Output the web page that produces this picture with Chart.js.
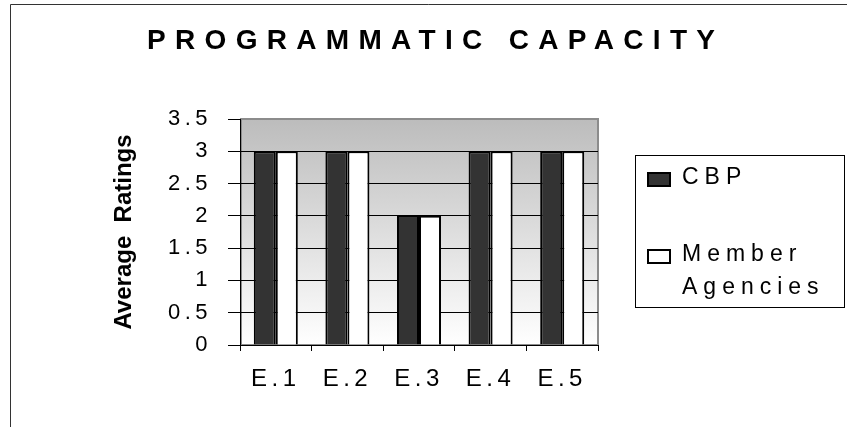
<!DOCTYPE html>
<html lang="en">
<head>
  <meta charset="UTF-8" />
  <title>Programmatic Capacity</title>
  <style>
    html, body { margin: 0; padding: 0; background: #fff; }
  </style>
</head>
<body>
  <canvas id="myChart" width="847" height="427"></canvas>

  <script src="https://cdn.jsdelivr.net/npm/chart.js"></script>

  <script>
    const chartTitle = "PROGRAMMATIC CAPACITY";
    const categories = ["E.1", "E.2", "E.3", "E.4", "E.5"];
    const cbpRatings = [3, 3, 2, 3, 3];
    const memberRatings = [3, 3, 2, 3, 3];
    const yTicks = [0, 0.5, 1, 1.5, 2, 2.5, 3, 3.5];
    const yTitle = "Average  Ratings";
    const FONT = '"Liberation Sans", Arial, sans-serif';

    // word wrap for the legend labels
    const wrap = (ctx, text, maxW) => {
      const words = text.split(" ");
      const lines = [];
      let cur = "";
      words.forEach((w) => {
        const test = cur ? cur + " " + w : w;
        if (cur && ctx.measureText(test).width > maxW) {
          lines.push(cur);
          cur = w;
        } else {
          cur = test;
        }
      });
      if (cur) lines.push(cur);
      return lines;
    };

    const decor = {
      id: "decor",
      beforeDraw(chart) {
        const { ctx, chartArea: a } = chart;
        ctx.save();
        const g = ctx.createLinearGradient(0, a.top, 0, a.bottom);
        g.addColorStop(0, "#bcbcbc");
        g.addColorStop(1, "#ffffff");
        ctx.fillStyle = g;
        ctx.fillRect(a.left, a.top, a.right - a.left, a.bottom - a.top);
        ctx.strokeStyle = "#8c8c8c";
        ctx.lineWidth = 2;
        ctx.strokeRect(a.left + 1, a.top, a.right - a.left - 1, a.bottom - a.top);
        // outer frame (top and left only)
        ctx.strokeStyle = "#333";
        ctx.lineWidth = 1;
        ctx.beginPath();
        ctx.moveTo(10.5, chart.height);
        ctx.lineTo(10.5, 4.5);
        ctx.lineTo(chart.width, 4.5);
        ctx.stroke();
        ctx.restore();
        ctx.letterSpacing = "0px";
      },
      afterDatasetsDraw(chart) {
        // tick labels are drawn after this (z: 1) with spaced letters
        chart.ctx.letterSpacing = "4.5px";
      },
      afterDraw(chart) {
        const ctx = chart.ctx;
        ctx.save();
        ctx.fillStyle = "#000";
        ctx.textAlign = "left";
        ctx.textBaseline = "alphabetic";

        // title, stretched to the reference width
        ctx.font = "bold 28px " + FONT;
        ctx.letterSpacing = "0px";
        const w0 = ctx.measureText(chartTitle).width;
        ctx.letterSpacing = (568 - w0) / (chartTitle.length - 1) + "px";
        ctx.fillText(chartTitle, 147, 49);

        // legend
        ctx.letterSpacing = "0px";
        ctx.strokeStyle = "#000";
        ctx.lineWidth = 1;
        ctx.strokeRect(635.5, 155.5, 209, 152);
        ctx.font = "23px " + FONT;
        ctx.letterSpacing = "6px";
        let y = 184;
        chart.data.datasets.forEach((ds) => {
          const lines = wrap(ctx, ds.label, 150);
          ctx.fillStyle = ds.backgroundColor;
          ctx.fillRect(647, y - 12, 24, 15);
          ctx.lineWidth = 2;
          ctx.strokeRect(648, y - 11, 22, 13);
          ctx.fillStyle = "#000";
          lines.forEach((ln, i) => ctx.fillText(ln, 682, y + i * 32.7));
          y += lines.length * 32.7 + 44.3;
        });
        ctx.restore();
        ctx.letterSpacing = "0px";
      },
    };

    const ctx = document.getElementById("myChart");

    new Chart(ctx, {
      type: "bar",
      data: {
        labels: categories,
        datasets: [
          {
            label: "CBP",
            data: cbpRatings,
            backgroundColor: "#333333",
            borderColor: "#000",
            borderWidth: 2,
          },
          {
            label: "Member Agencies",
            data: memberRatings,
            backgroundColor: "#ffffff",
            borderColor: "#000",
            borderWidth: 2,
          },
        ],
      },
      options: {
        responsive: false,
        animation: false,
        devicePixelRatio: 1,
        layout: { padding: { left: 100, right: 249, top: 119, bottom: 0 } },
        datasets: { bar: { barPercentage: 1, categoryPercentage: 0.615 } },
        plugins: {
          legend: { display: false },
          title: { display: false },
          tooltip: { enabled: false },
        },
        scales: {
          x: {
            grid: { drawOnChartArea: false, drawTicks: true, tickLength: 6, color: "#000", offset: true },
            border: { color: "#000", width: 1 },
            ticks: { color: "#000", font: { size: 24, family: FONT }, padding: 14, maxRotation: 0, autoSkip: false, z: 1 },
            afterFit(scale) { scale.height = 82; },
          },
          y: {
            min: 0,
            max: 3.5,
            afterBuildTicks(scale) { scale.ticks = yTicks.map((v) => ({ value: v })); },
            grid: {
              color: (c) => (c.tick && c.tick.value === 3.5 ? "rgba(0,0,0,0)" : "#000"),
              tickColor: "#000",
              tickLength: 12,
              lineWidth: 1,
            },
            border: { color: "#000", width: 1 },
            ticks: {
              color: "#000",
              font: { size: 22, family: FONT },
              padding: 16,
              z: 1,
              callback: (v) => String(v),
            },
            title: {
              display: true,
              text: yTitle,
              color: "#000",
              font: { size: 24, weight: "bold", family: FONT },
              padding: { top: 10, bottom: 0 },
            },
            afterFit(scale) { scale.width = 140; },
          },
        },
      },
      plugins: [decor],
    });
  </script>
</body>
</html>
